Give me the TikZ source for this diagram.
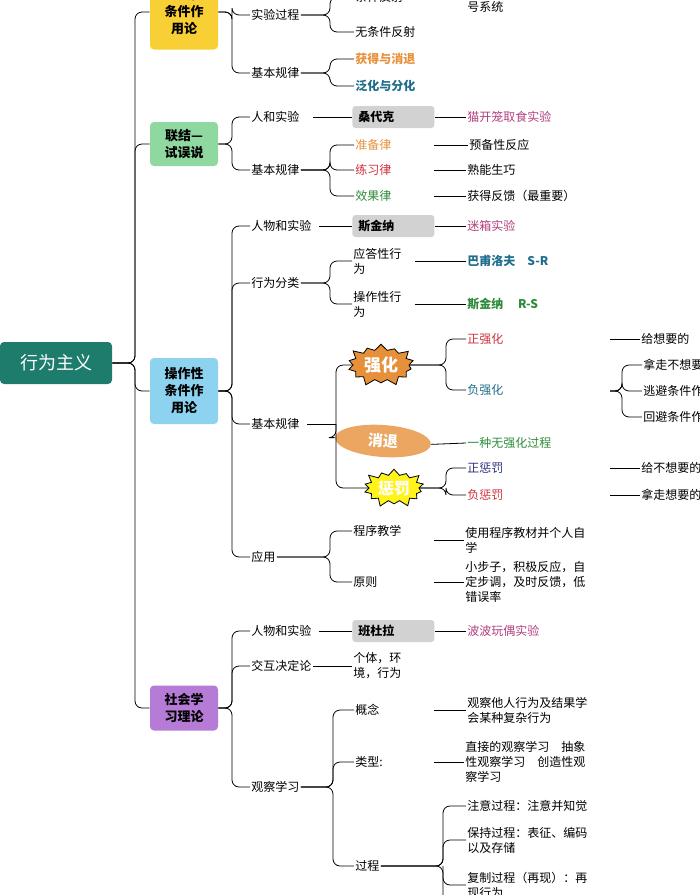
\documentclass[tikz,border=0pt]{standalone}
\usepackage{fontspec}
\setmainfont{Noto Sans CJK SC}
\usetikzlibrary{shapes.symbols,shapes.geometric}
\definecolor{rootc}{HTML}{1E7C6D}
\definecolor{yelc}{HTML}{F9CF36}
\definecolor{grnc}{HTML}{8FD9A0}
\definecolor{bluc}{HTML}{8DD3F0}
\definecolor{purc}{HTML}{B57BD6}
\definecolor{orc}{HTML}{E6913A}
\definecolor{tealc}{HTML}{1F6E8C}
\definecolor{magc}{HTML}{B0407E}
\definecolor{redc}{HTML}{D0303A}
\definecolor{grc}{HTML}{2E8B3A}
\definecolor{navc}{HTML}{2B2F7A}
\newcommand\fork[3]{\draw[br] (#1.east) -- (#3,0 |- #1.east) |- (#2.west);}
\newcommand\dashto[2]{\draw (#2,0 |- #1.west) -- (#1.west);}
\begin{document}
\begin{tikzpicture}[x=1pt,y=-1pt,font=\fontsize{12}{15}\selectfont\mdseries,
  br/.style={rounded corners=7pt,line width=0.8pt},
  every path/.style={line width=0.8pt},
  lv/.style={anchor=west,inner sep=1pt,align=left,font=\fontsize{12}{15}\selectfont\mdseries},
  bv/.style={lv,font=\fontsize{12}{15}\selectfont\bfseries},
  topbox/.style={rounded corners=4pt,minimum width=68pt,align=center,font=\fontsize{13}{17}\selectfont\bfseries},
  gbox/.style={anchor=west,fill=gray!35,rounded corners=3pt,minimum width=82pt,minimum height=22pt,font=\fontsize{12}{15}\selectfont\bfseries,text width=70pt}]
\useasboundingbox (0,0) rectangle (700,895);
% root and main boxes
\node[fill=rootc,text=white,rounded corners=4pt,minimum width=112pt,minimum height=42pt,font=\fontsize{18}{20}\selectfont\mdseries] (root) at (56,363) {行为主义};
\node[topbox,fill=yelc,minimum height=75pt] (jd) at (184,12) {经典性\\条件作\\用论};
\node[topbox,fill=grnc,minimum height=44pt] (lj) at (184,144) {联结—\\试误说};
\node[topbox,fill=bluc,minimum height=66pt] (cz) at (184,391) {操作性\\条件作\\用论};
\node[topbox,fill=purc,minimum height=45pt] (sh) at (184,708) {社会学\\习理论};
\fork{root}{jd}{135}\fork{root}{lj}{135}\fork{root}{cz}{135}\fork{root}{sh}{135}
% classical
\node[lv] (jd1) at (250,15) {实验过程};
\node[lv] (jd2) at (250,73) {基本规律};
\fork{jd}{jd1}{232}\fork{jd}{jd2}{232}
\node[lv] (jd11) at (354,-3) {条件反射·};
\node[lv] (jd12) at (354,32) {无条件反射};
\node[lv] (jd13) at (466,7) {号系统};
\node[bv,text=orc] (jd21) at (354,59) {获得与消退};
\node[bv,text=tealc] (jd22) at (354,86) {泛化与分化};
\fork{jd1}{jd11}{330}\fork{jd1}{jd12}{330}
\fork{jd2}{jd21}{330}\fork{jd2}{jd22}{330}
% connectionism
\node[lv] (lj1) at (250,117) {人和实验};
\node[lv] (lj2) at (250,170) {基本规律};
\fork{lj}{lj1}{232}\fork{lj}{lj2}{232}
\node[gbox] (sdk) at (352,117) {桑代克};
\node[lv,text=magc] (lj11) at (466,117) {猫开笼取食实验};
\draw (lj1.east) ++(12,0) -- (sdk.west);
\draw (sdk.east) -- (lj11.west);
\node[lv,text=orc] (lj21) at (354,145) {准备律};
\node[lv,text=redc] (lj22) at (354,170) {练习律};
\node[lv,text=grc] (lj23) at (354,196) {效果律};
\fork{lj2}{lj21}{330}\fork{lj2}{lj22}{330}\fork{lj2}{lj23}{330}
\node[lv] (lj31) at (468,145) {预备性反应};
\node[lv] (lj32) at (466,170) {熟能生巧};
\node[lv] (lj33) at (466,196) {获得反馈（最重要）};
\dashto{lj31}{434}\dashto{lj32}{434}\dashto{lj33}{434}
% operant
\node[lv] (cz1) at (250,226) {人物和实验};
\node[lv] (cz2) at (250,283) {行为分类};
\node[lv] (cz3) at (250,424) {基本规律};
\node[lv] (cz4) at (250,557) {应用};
\fork{cz}{cz1}{232}\fork{cz}{cz2}{232}\fork{cz}{cz3}{232}\fork{cz}{cz4}{232}
\node[gbox] (skn) at (352,226) {斯金纳};
\node[lv,text=magc] (cz11) at (466,226) {迷箱实验};
\draw (cz1.east) ++(6,0) -- (skn.west);
\draw (skn.east) -- (cz11.west);
\node[lv] (cz21) at (352,261) {应答性行\\为};
\node[lv] (cz22) at (352,304) {操作性行\\为};
\fork{cz2}{cz21}{330}\fork{cz2}{cz22}{330}
\node[bv,text=tealc] (bp) at (466,261) {巴甫洛夫\quad S-R};
\node[bv,text=grc] (sr) at (466,304) {斯金纳\quad\ R-S};
\draw (cz21.east) ++(12,0) -- (bp.west);
\draw (cz22.east) ++(12,0) -- (sr.west);
\node[starburst,fill=orc,draw=black,starburst points=14,starburst point height=8pt,minimum width=72pt,minimum height=46pt,inner sep=0pt,font=\fontsize{17}{19}\selectfont\bfseries,text=white] (qh) at (381,365) {强化};
\node[ellipse,fill=orc!80,rotate=-4,minimum width=96pt,minimum height=32pt,font=\fontsize{15}{17}\selectfont\bfseries,text=white] (xt) at (383,441) {消退};
\node[starburst,fill=yellow!90,draw=black,starburst points=14,starburst point height=8pt,minimum width=66pt,minimum height=42pt,inner sep=0pt,font=\fontsize{16}{18}\selectfont\bfseries,text=white] (cf) at (394,488) {惩罚};
\node[coordinate] (cz3f) at (336,424) {};
\draw (cz3.east) ++(6,0) -- (cz3f);
\draw[br] (cz3f) |- (qh.west);
\draw[br] (cz3f) |- (xt.west);
\draw[br] (cz3f) |- (cf.west);
\node[lv,text=redc] (zq) at (466,339) {正强化};
\node[lv,text=tealc] (fq) at (466,390) {负强化};
\fork{qh}{zq}{446}\fork{qh}{fq}{446}
\node[lv,text=grc] (xt1) at (466,443) {一种无强化过程};
\draw (xt.east) -- (xt1.west);
\node[lv,text=navc] (zc) at (466,468) {正惩罚};
\node[lv,text=redc] (fc) at (466,495) {负惩罚};
\fork{cf}{zc}{446}\fork{cf}{fc}{446}
\node[lv] (zq1) at (640,339) {给想要的};
\dashto{zq1}{610}
\node[lv] (fq1) at (642,365) {拿走不想要的};
\node[lv] (fq2) at (642,391) {逃避条件作用};
\node[lv] (fq3) at (642,417) {回避条件作用};
\node[coordinate] (fqs) at (610,391) {};
\draw[br] (fqs) -- (622,391) |- (fq1.west);
\draw[br] (fqs) -- (622,391) |- (fq2.west);
\draw[br] (fqs) -- (622,391) |- (fq3.west);
\node[lv] (zc1) at (640,468) {给不想要的};
\node[lv] (fc1) at (640,495) {拿走想要的};
\dashto{zc1}{610}
\dashto{fc1}{610}
\node[lv] (cz41) at (352,531) {程序教学};
\node[lv] (cz42) at (352,582) {原则};
\fork{cz4}{cz41}{330}\fork{cz4}{cz42}{330}
\node[lv] (yy1) at (464,540) {使用程序教材并个人自\\学};
\node[lv] (yy2) at (464,582) {小步子，积极反应，自\\定步调，及时反馈，低\\错误率};
\dashto{yy1}{434}
\dashto{yy2}{434}
% social learning
\node[lv] (sh1) at (250,631) {人物和实验};
\node[lv] (sh2) at (250,666) {交互决定论};
\node[lv] (sh3) at (250,787) {观察学习};
\fork{sh}{sh1}{232}\fork{sh}{sh2}{232}\fork{sh}{sh3}{232}
\node[gbox] (bdl) at (352,631) {班杜拉};
\node[lv,text=magc] (sh11) at (466,631) {波波玩偶实验};
\draw (sh1.east) ++(6,0) -- (bdl.west);
\draw (bdl.east) -- (sh11.west);
\node[lv] (sh21) at (352,666) {个体，环\\境，行为};
\draw (sh2.east) -- (sh21.west);
\node[lv] (gc1) at (354,710) {概念};
\node[lv] (gc2) at (354,762) {类型:};
\node[lv] (gc3) at (354,866) {过程};
\fork{sh3}{gc1}{333}\fork{sh3}{gc2}{333}\fork{sh3}{gc3}{333}
\node[lv] (gc11) at (466,710) {观察他人行为及结果学\\会某种复杂行为};
\node[lv] (gc21) at (464,762) {直接的观察学习\quad 抽象\\性观察学习\quad 创造性观\\察学习};
\dashto{gc11}{434}
\dashto{gc21}{434}
\node[lv] (gc31) at (466,806) {注意过程：注意并知觉};
\node[lv] (gc32) at (466,840) {保持过程：表征、编码\\以及存储};
\node[lv] (gc33) at (466,885) {复制过程（再现）：再\\现行为};
\coordinate (gc34) at (466,930);
\fork{gc3}{gc31}{443}\fork{gc3}{gc32}{443}\fork{gc3}{gc33}{443}
\draw[br] (443,866) |- (gc34);
\end{tikzpicture}
\end{document}
